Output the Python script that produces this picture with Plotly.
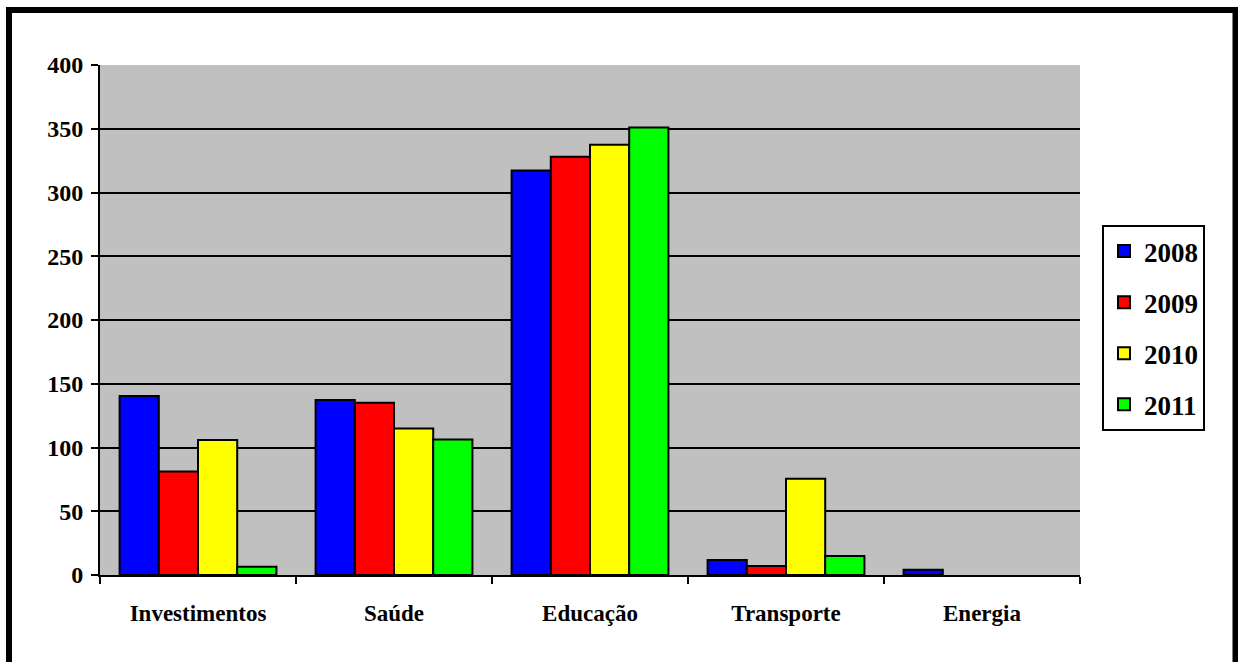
import plotly.graph_objects as go

categories = ["Investimentos", "Saúde", "Educação", "Transporte", "Energia"]
years = ["2008", "2009", "2010", "2011"]
v2008 = [140.3, 137.2, 317.3, 11.8, 4.2]
v2009 = [81.1, 135.1, 328.0, 7.1, 0]
v2010 = [105.8, 114.9, 337.5, 75.4, 0]
v2011 = [6.5, 106.3, 351.0, 14.9, 0]
series = [v2008, v2009, v2010, v2011]
colors = ["#0000FF", "#FF0000", "#FFFF00", "#00FF00"]
y_ticks = [0, 50, 100, 150, 200, 250, 300, 350, 400]
grid_ticks = [50, 100, 150, 200, 250, 300, 350]

W, H = 1238, 662
L, R, T, B = 100, 158, 65, 87

fig = go.Figure()
# helper trace so the grid axis (y2) exists; drawn first so bars sit above its grid
fig.add_trace(go.Scatter(x=categories, y=[None] * len(categories), yaxis="y2",
                         showlegend=False, hoverinfo="skip", mode="lines"))
for name, vals, col in zip(years, series, colors):
    fig.add_trace(go.Bar(
        x=categories, y=vals, name=name, legendgroup=name,
        marker=dict(color=col,
                    line=dict(color="black", width=[2 if v else 0 for v in vals])),
    ))

font = "Liberation Serif, Times New Roman, serif"
fig.update_layout(
    width=W, height=H,
    margin=dict(l=L, r=R, t=T, b=B),
    paper_bgcolor="white",
    plot_bgcolor="#C0C0C0",
    barmode="group",
    bargap=0.2,
    bargroupgap=0,
    font=dict(family=font, size=22, color="black"),
    xaxis=dict(
        type="category",
        showline=True, linecolor="black", linewidth=2,
        ticks="outside", tickson="boundaries", ticklen=7, tickwidth=2, tickcolor="black",
        tickfont=dict(family=font, size=23, color="black", weight="bold"),
        ticklabelstandoff=16,
        showgrid=False,
    ),
    yaxis=dict(
        range=[0, 400],
        tickvals=y_ticks,
        showline=True, linecolor="black", linewidth=2,
        ticks="outside", ticklen=7, tickwidth=2, tickcolor="black",
        tickfont=dict(family=font, size=24, color="black", weight="bold"),
        ticklabelstandoff=3,
        showgrid=False, zeroline=False,
    ),
    yaxis2=dict(
        range=[0, 400], overlaying="y", side="left",
        tickvals=grid_ticks, showticklabels=False, ticks="",
        showgrid=True, gridcolor="black", gridwidth=2,
        showline=False, zeroline=False,
    ),
    legend=dict(
        x=(1102 - L) / (W - L - R), xanchor="left",
        y=(575 - 225) / (H - T - B), yanchor="top",
        bordercolor="black", borderwidth=2, bgcolor="white",
        font=dict(family=font, size=27, color="black", weight="bold"),
        tracegroupgap=13,
        traceorder="grouped",
        itemwidth=30,
    ),
    showlegend=True,
)

# outer frame of the chart area
pw, ph = W - L - R, H - T - B
fig.add_shape(type="rect", xref="paper", yref="paper",
              x0=(9 - L) / pw, x1=(1235.5 - L) / pw,
              y0=(H - B - 672) / ph, y1=(H - B - 10) / ph,
              line=dict(color="black", width=6), layer="above")

fig.write_html("out.html")
